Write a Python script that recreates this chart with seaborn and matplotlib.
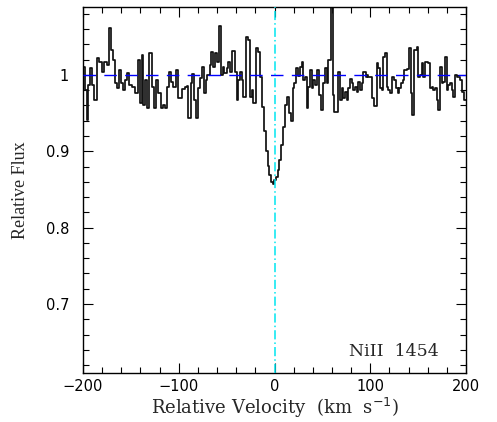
import numpy as np
import pandas as pd
import matplotlib
matplotlib.use("Agg")
import matplotlib.pyplot as plt
from matplotlib.ticker import MultipleLocator
import seaborn as sns

# velocity (left bin edges, km/s) and normalised flux
velocity = [-200.0, -197.9, -196.1, -194.4, -192.7, -190.9, -188.5, -185.0, -183.3, -180.5,
            -178.1, -175.3, -172.5, -170.8, -169.0, -166.9, -164.8, -162.4, -160.6, -158.5,
            -156.1, -153.7, -151.6, -149.1, -145.7, -142.2, -140.5, -138.7, -137.0, -135.2,
            -133.5, -131.1, -128.3, -125.8, -123.8, -121.4, -118.9, -116.8, -114.4, -112.0,
            -109.9, -108.1, -105.7, -103.2, -100.8, -96.3, -93.5, -91.4, -90.0, -87.5,
            -85.8, -83.7, -82.3, -79.6, -77.5, -76.1, -74.0, -71.9, -70.2, -67.7,
            -66.3, -63.9, -62.1, -60.1, -58.0, -55.9, -54.1, -52.4, -49.9, -48.2,
            -46.1, -44.0, -41.3, -39.5, -37.8, -36.0, -34.3, -32.6, -30.1, -28.0,
            -25.6, -23.8, -22.1, -19.7, -17.5, -15.1, -13.4, -11.0, -9.2, -7.1,
            -5.4, -3.7, -1.9, -0.2, 1.6, 3.3, 5.0, 6.8, 8.6, 11.0,
            12.7, 15.1, 16.9, 19.0, 20.7, 22.5, 24.2, 26.6, 28.4, 30.1,
            31.9, 33.6, 35.3, 37.1, 38.9, 40.5, 42.3, 44.7, 46.8, 48.6,
            51.0, 52.7, 54.5, 56.2, 58.7, 60.8, 62.5, 66.6, 68.4, 70.2,
            71.9, 73.6, 75.4, 77.1, 78.9, 80.6, 82.3, 84.1, 85.8, 87.5,
            89.3, 91.1, 92.7, 95.2, 96.9, 98.0, 102.2, 104.2, 106.7, 108.4,
            110.2, 112.0, 113.7, 115.4, 117.2, 118.9, 120.6, 123.0, 125.1, 126.9,
            128.7, 130.3, 132.1, 133.9, 135.6, 138.1, 140.5, 142.6, 143.9, 146.0,
            148.5, 150.2, 152.0, 153.7, 155.4, 157.2, 159.0, 160.6, 162.4, 164.2,
            165.8, 167.6, 169.4, 171.1, 172.8, 174.6, 176.3, 178.1, 179.8, 181.5,
            183.3, 185.1, 186.7, 188.5, 190.3, 192.0, 193.7, 196.2, 197.6, 200.0]

flux = [1.010, 0.980, 0.941, 0.987, 1.009, 0.987, 0.967, 1.022, 1.017, 1.004,
        1.017, 1.013, 1.061, 1.033, 1.020, 0.990, 0.983, 1.007, 0.990, 0.980,
        0.993, 1.003, 0.987, 0.984, 0.976, 1.020, 0.963, 1.026, 0.961, 0.993,
        0.957, 1.029, 0.984, 0.957, 0.993, 0.976, 0.957, 0.961, 0.957, 0.984,
        1.004, 0.991, 0.984, 1.007, 0.970, 0.982, 0.984, 0.986, 0.944, 0.990,
        1.001, 0.967, 0.944, 0.983, 0.996, 1.010, 0.976, 0.993, 1.000, 1.013,
        1.030, 1.010, 1.029, 1.017, 1.064, 1.000, 1.010, 1.003, 1.009, 1.017,
        1.004, 1.031, 1.004, 0.967, 0.993, 1.004, 0.993, 0.971, 1.050, 1.046,
        0.971, 0.980, 0.963, 1.035, 1.030, 0.997, 0.958, 0.926, 0.900, 0.881,
        0.869, 0.860, 0.857, 0.862, 0.866, 0.875, 0.889, 0.908, 0.932, 0.961,
        0.971, 0.950, 0.940, 0.983, 0.990, 1.009, 0.999, 1.010, 1.017, 0.993,
        0.997, 0.957, 0.984, 1.007, 0.983, 0.993, 0.987, 1.007, 0.974, 0.954,
        0.990, 1.009, 0.990, 1.020, 1.150, 0.974, 0.952, 1.004, 0.967, 0.983,
        0.970, 0.978, 0.967, 0.983, 0.995, 0.990, 0.980, 0.984, 0.978, 0.991,
        0.980, 0.990, 1.004, 0.997, 1.000, 0.997, 0.970, 0.959, 1.016, 1.009,
        0.983, 0.980, 1.024, 1.029, 0.984, 0.980, 0.976, 0.997, 0.993, 0.983,
        0.976, 0.983, 0.990, 0.993, 1.007, 1.008, 1.035, 0.976, 0.948, 1.033,
        1.037, 0.997, 1.000, 1.016, 0.997, 1.017, 1.017, 1.016, 0.983, 0.984,
        0.980, 0.983, 0.967, 0.954, 1.010, 0.990, 0.991, 1.024, 0.980, 0.987,
        0.990, 0.980, 0.971, 1.000, 0.997, 0.997, 0.993, 0.978, 0.967, 0.967]

line_label = "NiII  1454"

df = pd.DataFrame({"v": velocity, "f": flux})

sns.set_style("ticks")
fig = plt.figure(figsize=(4.97, 4.22), dpi=100)
ax = fig.add_axes([83 / 497, 1 - 373 / 422, (466 - 83) / 497, (373 - 7) / 422])

sns.lineplot(data=df, x="v", y="f", ax=ax, estimator=None, sort=False,
             drawstyle="steps-post", color="#111111", linewidth=1.25)

ax.axhline(1.0, color="#0000ff", linewidth=1.0, dashes=(9, 6), zorder=4)
ax.axvline(0.0, color="#00e5f0", linewidth=1.1, linestyle=(0, (6, 2, 1, 2)), zorder=4)

ax.set_xlim(-200, 200)
ax.set_ylim(0.6096, 1.089)
ax.xaxis.set_major_locator(MultipleLocator(100))
ax.xaxis.set_minor_locator(MultipleLocator(20))
ax.yaxis.set_major_locator(MultipleLocator(0.1))
ax.yaxis.set_minor_locator(MultipleLocator(0.02))
ax.set_yticks([0.7, 0.8, 0.9, 1.0])
ax.set_yticklabels(["0.7", "0.8", "0.9", "1"])
ax.tick_params(which="both", direction="in", top=True, right=True, width=0.8,
               labelsize=10.5, colors="black")
ax.tick_params(which="major", length=7)
ax.tick_params(axis="x", which="major", pad=4)
ax.tick_params(axis="y", which="major", pad=10)
ax.tick_params(which="minor", length=4)
for s in ax.spines.values():
    s.set_linewidth(1.0)
    s.set_color("black")
for t in ax.get_xticklabels() + ax.get_yticklabels():
    t.set_family("DejaVu Sans")

ax.set_xlabel("Relative Velocity  (km  s$^{-1}$)", fontsize=13, family="DejaVu Serif", labelpad=2)
ax.set_ylabel("Relative Flux", fontsize=13, family="Liberation Serif", labelpad=12)
ax.text(0.93, 0.058, line_label, transform=ax.transAxes, ha="right", va="center",
        fontsize=12.5, family="DejaVu Serif")

fig.savefig("out.png", dpi=100)
